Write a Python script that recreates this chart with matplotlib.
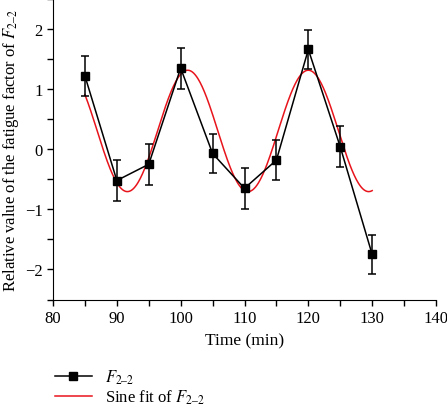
import numpy as np
import matplotlib.pyplot as plt
from matplotlib.ticker import MultipleLocator

plt.rcParams['font.family'] = ['Liberation Serif', 'DejaVu Serif']
plt.rcParams['mathtext.fontset'] = 'stix'

# measured points
time = [85, 90, 95, 100, 105, 110, 115, 120, 125, 130]
f22 = [1.22, -0.52, -0.25, 1.35, -0.07, -0.65, -0.18, 1.66, 0.04, -1.75]
f22_err = [0.33, 0.34, 0.34, 0.34, 0.33, 0.34, 0.33, 0.33, 0.34, 0.33]

# sine fit parameters: y0 + A*cos(2*pi*(t - t_peak)/period)
fit_y0 = 0.305
fit_amp = 1.01
fit_peak = 101.1
fit_period = 18.9

fig = plt.figure(figsize=(4.47, 4.10), dpi=100)
ax = fig.add_axes([53 / 447, 1 - 300.5 / 410, (436 - 53) / 447, 300.5 / 410])

t_fit = np.linspace(85, 130, 400)
y_fit = fit_y0 + fit_amp * np.cos(2 * np.pi * (t_fit - fit_peak) / fit_period)

ax.errorbar(time, f22, yerr=f22_err, fmt='none', ecolor='black',
            elinewidth=1.1, capsize=3, capthick=1.1, zorder=3)
data_line, = ax.plot(time, f22, color='black', marker='s', markersize=6,
                     linewidth=1.1, zorder=4)
fit_line, = ax.plot(t_fit, y_fit, color='#e8141c', linewidth=1.1, zorder=2)

ax.set_xlim(80, 140)
ax.set_ylim(-2.5, 2.5)
ax.xaxis.set_major_locator(MultipleLocator(10))
ax.xaxis.set_minor_locator(MultipleLocator(5))
ax.yaxis.set_major_locator(MultipleLocator(1))
ax.yaxis.set_minor_locator(MultipleLocator(0.5))
ax.tick_params(which='both', direction='out', length=4, width=1, labelsize=12)
ax.spines['top'].set_visible(False)
ax.spines['right'].set_visible(False)

ax.set_xlabel('Time (min)', fontsize=12.5, labelpad=5)
ax.set_ylabel('Relative value of the fatigue factor of $F_{2\u20132}$', fontsize=12, labelpad=3)

fig.legend([data_line, fit_line], ['$F_{2\u20132}$', 'Sine fit of $F_{2\u20132}$'],
           loc='upper left', bbox_to_anchor=(40 / 447, 1 - 354 / 410),
           frameon=False, fontsize=12, handlelength=2.2, handletextpad=0.8,
           labelspacing=0.1)

fig.savefig('out.png', dpi=100)
